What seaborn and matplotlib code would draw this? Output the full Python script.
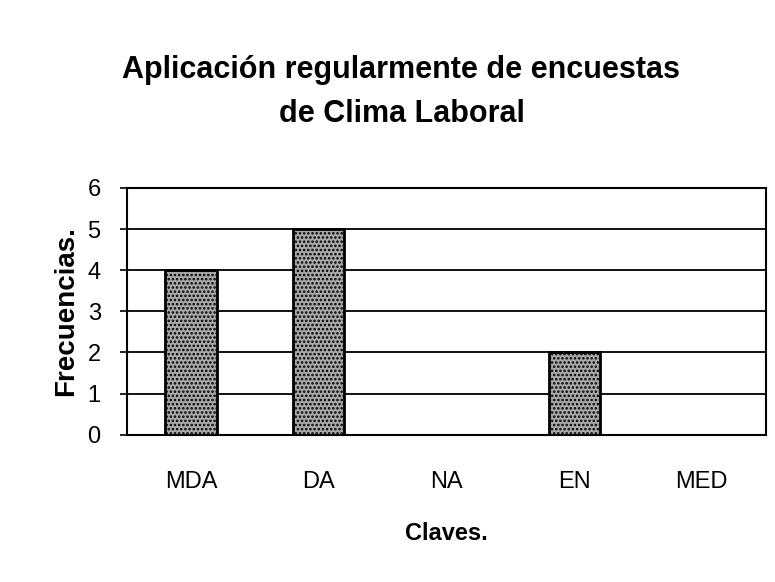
import matplotlib
matplotlib.use('Agg')
import matplotlib.pyplot as plt
import seaborn as sns

# Datos
claves = ['MDA', 'DA', 'NA', 'EN', 'MED']
frecuencias = [4, 5, 0, 2, 0]
y_ticks = [0, 1, 2, 3, 4, 5, 6]

sns.set_style('white')
plt.rcParams['font.family'] = ['Liberation Sans', 'DejaVu Sans']
plt.rcParams['text.color'] = 'black'
plt.rcParams['axes.labelcolor'] = 'black'
plt.rcParams['xtick.color'] = 'black'
plt.rcParams['ytick.color'] = 'black'
plt.rcParams['hatch.linewidth'] = 1.2

fig = plt.figure(figsize=(7.75, 5.82), dpi=100)
ax = fig.add_axes([0.164, 0.253, 0.824, 0.424])

sns.barplot(x=claves, y=frecuencias, color='#a8a8a8', edgecolor='black',
            linewidth=2, width=0.4, ax=ax, zorder=3, hatch='....')

ax.set_ylim(0, 6)
ax.set_yticks(y_ticks)
ax.yaxis.grid(True, color='black', linewidth=1.3)
ax.set_axisbelow(True)
for s in ['left', 'bottom', 'right', 'top']:
    ax.spines[s].set_visible(True)
    ax.spines[s].set_color('black')
    ax.spines[s].set_linewidth(1.5)

ax.tick_params(axis='y', labelsize=17, length=5, width=1.2, direction='out', left=True, pad=14)
ax.tick_params(axis='x', labelsize=17, length=0, pad=26)

ax.set_xlabel('Claves.', fontsize=17, fontweight='bold', labelpad=21)
ax.set_ylabel('Frecuencias.', fontsize=20, fontweight='bold', labelpad=6)

fig.suptitle('Aplicación regularmente de encuestas\nde Clima Laboral',
             fontsize=22, fontweight='bold', y=0.905, x=0.518, linespacing=1.6)

fig.savefig('out.png', dpi=100, facecolor='white')
